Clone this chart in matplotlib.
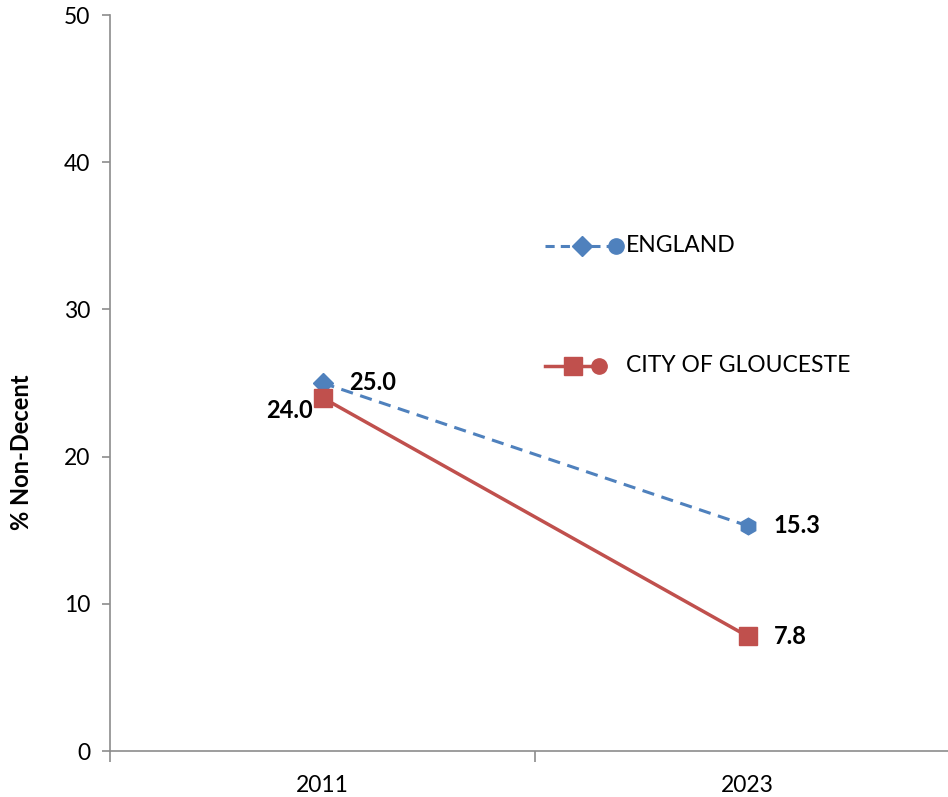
import matplotlib
matplotlib.use("Agg")
import matplotlib.pyplot as plt
from matplotlib.transforms import Bbox, TransformedBbox

years = ["2011", "2023"]
england = [25.0, 15.3]
gloucester = [24.0, 7.8]
series_names = ["ENGLAND", "CITY OF GLOUCESTER"]
yticks = [0, 10, 20, 30, 40, 50]

W, H = 948, 797
fig = plt.figure(figsize=(W / 100, H / 100), dpi=100)
plt.rcParams['font.family'] = ['Lato', 'DejaVu Sans']

def fx(px):
    return px / W

def fy(py):
    return 1 - py / H

left, right, top, bottom = 110, 960, 15, 751
ax = fig.add_axes([fx(left), fy(bottom), (right - left) / W, (bottom - top) / H])
ax.set_xlim(0, 2)
ax.set_ylim(0, 50)

blue = "#4F81BD"
red = "#C0504D"
xs = [0.5, 1.5]

ax.plot(xs, england, color=blue, lw=2.2, ls=(0, (4, 2.5)), zorder=3, clip_on=False)
ax.plot([xs[0]], [england[0]], marker="D", ms=10, color=blue, zorder=4, clip_on=False)
ax.plot([xs[1]], [england[1]], marker="h", ms=12, color=blue, zorder=4, clip_on=False)
ax.plot(xs, gloucester, color=red, lw=2.5, marker="s", ms=13, zorder=5, clip_on=False)

# data labels
lab = dict(fontsize=17, fontweight="bold", va="center", color="black")
ax.annotate(f"{england[0]:.1f}", (xs[0], england[0]), xytext=(19, 0), textcoords="offset points", ha="left", **lab)
ax.annotate(f"{gloucester[0]:.1f}", (xs[0], gloucester[0]), xytext=(-7, -9), textcoords="offset points", ha="right", **lab)
ax.annotate(f"{england[1]:.1f}", (xs[1], england[1]), xytext=(19, 0), textcoords="offset points", ha="left", **lab)
ax.annotate(f"{gloucester[1]:.1f}", (xs[1], gloucester[1]), xytext=(19, 0), textcoords="offset points", ha="left", **lab)

# axes styling
for s in ["top", "right"]:
    ax.spines[s].set_visible(False)
for s in ["left", "bottom"]:
    ax.spines[s].set_color("#8C8C8C")
    ax.spines[s].set_linewidth(1.2)
ax.set_yticks(yticks)
ax.set_yticklabels([str(t) for t in yticks], fontsize=16.5)
ax.tick_params(axis="y", length=6, color="#8C8C8C", width=1.2, pad=8)
ax.set_xticks([0, 1, 2])
ax.set_xticklabels([])
ax.set_xticks(xs, minor=True)
ax.set_xticklabels(years, minor=True, fontsize=16.5)
ax.tick_params(axis="x", which="major", length=8, color="#8C8C8C", width=1.2, direction="out")
ax.tick_params(axis="x", which="minor", length=0, pad=17)

fig.text(fx(22), fy(452), "% Non-Decent", rotation=90, fontsize=17, fontweight="bold", ha="center", va="center")

# legend (manual)
ly1, ly2 = fy(246), fy(366)
fig.add_artist(plt.Line2D([fx(545), fx(618)], [ly1, ly1], color=blue, lw=2.2, ls=(0, (3, 2))))
fig.add_artist(plt.Line2D([fx(582)], [ly1], marker="D", ms=10, color=blue))
fig.add_artist(plt.Line2D([fx(616)], [ly1], marker="o", ms=11, color=blue))
fig.add_artist(plt.Line2D([fx(545), fx(605)], [ly2, ly2], color=red, lw=2.5))
fig.add_artist(plt.Line2D([fx(573)], [ly2], marker="s", ms=13, color=red))
fig.add_artist(plt.Line2D([fx(599)], [ly2], marker="o", ms=11, color=red))
fig.text(fx(626), ly1, series_names[0], fontsize=16.5, va="center", ha="left")
t2 = fig.text(fx(626), ly2, series_names[1], fontsize=16.5, va="center", ha="left")
t2.set_clip_on(True)
t2.set_clip_box(TransformedBbox(Bbox([[0, 0], [fx(850), 1]]), fig.transFigure))

fig.savefig("out.png", dpi=100)
